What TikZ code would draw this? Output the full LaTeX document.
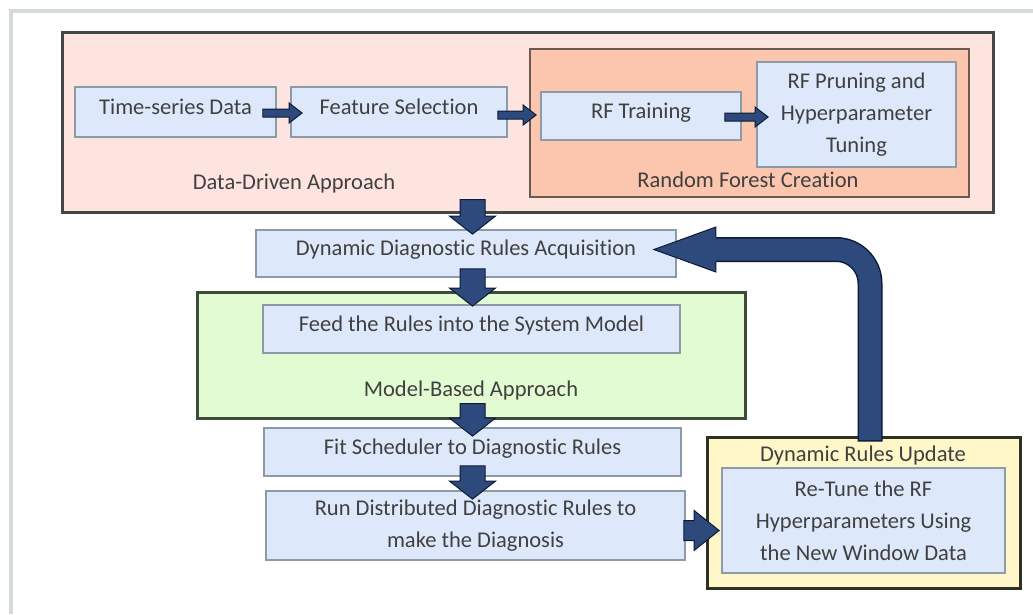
\documentclass[tikz,border=0pt]{standalone}
\usepackage{fontspec}
\setmainfont{Carlito}[Ligatures=NoCommon]
\usetikzlibrary{calc}

\definecolor{framegrey}{HTML}{D3DBD6}
\definecolor{pinkfill}{HTML}{FDE4DF}
\definecolor{pinkline}{HTML}{444843}
\definecolor{salmonfill}{HTML}{FBC5AE}
\definecolor{salmonline}{HTML}{6A5A50}
\definecolor{boxfill}{HTML}{DDE9FB}
\definecolor{boxline}{HTML}{8D9BA9}
\definecolor{greenfill}{HTML}{E2FBD3}
\definecolor{greenline}{HTML}{3E4B38}
\definecolor{yellowfill}{HTML}{FFF7C8}
\definecolor{yellowline}{HTML}{2D3221}
\definecolor{txt}{HTML}{404040}
\definecolor{arrfill}{HTML}{2E4A7C}
\definecolor{arrline}{HTML}{0C1A36}

\tikzset{
  every node/.style={font=\fontsize{22.5}{32}\selectfont},
  box/.style={draw=boxline, fill=boxfill, line width=1.8pt, inner sep=0pt, align=center, text=txt},
  lift/.style={text height=16pt, text depth=12pt},
  group/.style={line width=3pt, inner sep=0pt},
  caption/.style={text=txt, inner sep=0pt},
  arr/.style={fill=arrfill, draw=arrline, line width=1pt, line join=miter},
  downblock/.style={arr, to path={let \p1=(\tikztostart), \p2=(\tikztotarget) in
    (\x1-12.5pt,\y1) -- (\x1-12.5pt,\y2+18pt) -- (\x1-23pt,\y2+18pt) -- (\x1,\y2)
    -- (\x1+23pt,\y2+18pt) -- (\x1+12.5pt,\y2+18pt) -- (\x1+12.5pt,\y1) -- cycle}},
  rightblock/.style n args={3}{arr, to path={let \p1=(\tikztostart), \p2=(\tikztotarget) in
    (\x1,\y1-#1) -- (\x2-#3,\y1-#1) -- (\x2-#3,\y1-#2) -- (\x2,\y1)
    -- (\x2-#3,\y1+#2) -- (\x2-#3,\y1+#1) -- (\x1,\y1+#1) -- cycle}},
}

\begin{document}
\begin{tikzpicture}[x=1pt, y=-1pt]
\useasboundingbox (0,0) rectangle (1033,614);
\fill[white] (0,0) rectangle (1033,614);

% page frame
\draw[framegrey, line width=3.5pt] (11,614) -- (11,11) -- (1033,11);

% data-driven part
\node[group, draw=pinkline, fill=pinkfill, minimum width=931pt, minimum height=180pt] (data) at (527.5,122) {};
\node[group, line width=2.4pt, draw=salmonline, fill=salmonfill, minimum width=439pt, minimum height=148pt] (rfc) at (749.5,123) {};
\node[caption] (datalbl) at (294,183) {Data-Driven Approach};
\node[caption] (rfclbl) at (748,180) {Random Forest Creation};

\node[box, lift, minimum width=201pt, minimum height=50pt] (time) at (175.5,112) {Time-series Data};
\node[box, lift, minimum width=216pt, minimum height=50pt] (feat) at (399,112) {Feature Selection};
\node[box, lift, minimum width=200pt, minimum height=48pt] (rft) at (641,116) {RF Training};
\node[box, minimum width=199pt, minimum height=105pt] (prune) at (856.5,114.5) {RF Pruning and\\Hyperparameter\\Tuning};

% rules acquisition
\node[box, lift, minimum width=420pt, minimum height=47pt] (dyn) at (466,253.5) {Dynamic Diagnostic Rules Acquisition};

% model-based part
\node[group, draw=greenline, fill=greenfill, minimum width=548pt, minimum height=126pt] (green) at (471,355) {};
\node[box, lift, minimum width=417pt, minimum height=48pt] (feed) at (471.5,329) {Feed the Rules into the System Model};
\node[caption] (greenlbl) at (471,390) {Model-Based Approach};

\node[box, lift, minimum width=417pt, minimum height=48pt] (fit) at (472.5,452) {Fit Scheduler to Diagnostic Rules};
\node[box, minimum width=419pt, minimum height=69pt] (run) at (475.5,525.5) {Run Distributed Diagnostic Rules to\\make the Diagnosis};

% update part
\node[group, draw=yellowline, fill=yellowfill, minimum width=313pt, minimum height=151pt] (yel) at (863.5,512.5) {};
\node[caption] (yellbl) at (863,455) {Dynamic Rules Update};
\node[box, minimum width=283pt, minimum height=105pt] (retune) at (863.5,520.5) {Re-Tune the RF\\Hyperparameters Using\\the New Window Data};

% small arrows inside the data-driven part
\path[rightblock={4pt}{10pt}{13pt}] ($(time.east)+(-14,1)$) to ($(feat.west)+(12,0)$);
\path[rightblock={4pt}{10pt}{13pt}] ($(feat.east |- rft.west)+(-10,-1)$) to ($(rft.west)+(-4,0)$);
\path[rightblock={4pt}{10pt}{13pt}] ($(rft.east)+(-17,1)$) to ($(prune.west |- rft.east)+(12,0)$);

% main vertical flow
\path[downblock] ($(data.south -| fit.north)+(0,-14)$) to ($(dyn.north -| fit.north)+(0,5)$);
\path[downblock] ($(dyn.south -| fit.north)+(0,-9)$) to ($(feed.north -| fit.north)+(0,2)$);
\path[downblock] ($(green.south -| fit.north)+(0,-16)$) to ($(fit.north)+(0,9)$);
\path[downblock] ($(fit.south)+(0,-11)$) to ($(run.north -| fit.north)+(0,9)$);

% diagnosis to update
\path[rightblock={10pt}{20pt}{25pt}] ($(run.east)+(-2,5)$) to ($(retune.west)+(-2,0)$);

% feedback loop from the update back to rules acquisition
\coordinate (loopstart) at ($(yel.north)+(6.5,6)$);
\coordinate (loophead) at ($(dyn.east)+(39,-4)$);
\coordinate (looptip) at ($(dyn.east)+(-23,-4)$);
\draw[line width=25pt, arrline, rounded corners=34pt] (loopstart) |- ($(loophead)+(-3,0)$);
\draw[line width=22pt, arrfill, rounded corners=34pt] ($(loopstart)+(0,-1.5)$) |- ($(loophead)+(-4,0)$);
\fill[arrfill] ($(loophead)+(0,-22.5)$) -- (looptip) -- ($(loophead)+(0,22.5)$) -- cycle;
\draw[arrline, line width=1pt, line join=miter]
  ($(loophead)+(0,-12.5)$) -- ($(loophead)+(0,-22.5)$) -- (looptip)
  -- ($(loophead)+(0,22.5)$) -- ($(loophead)+(0,12.5)$);
\end{tikzpicture}
\end{document}
